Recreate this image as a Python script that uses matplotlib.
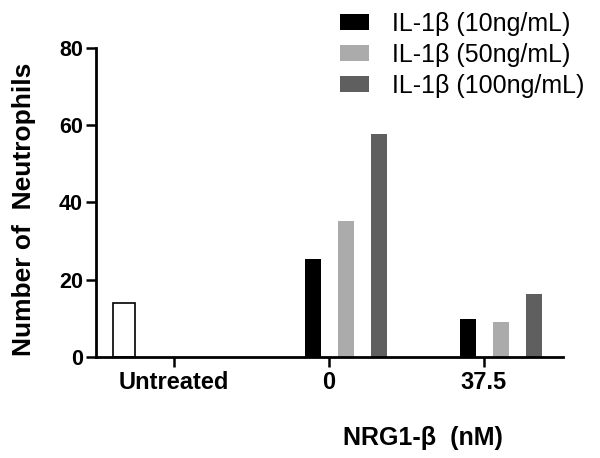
import matplotlib
matplotlib.use("Agg")
import matplotlib.pyplot as plt
from matplotlib.patches import Patch

plt.rcParams['font.family'] = ['Liberation Sans', 'DejaVu Sans']

categories = ['Untreated', '0', '37.5']
untreated = [13.9]
il10 = [25.3, 9.75]
il50 = [35.2, 9.1]
il100 = [57.6, 16.2]
series_labels = ['IL-1\u03b2 (10ng/mL)', 'IL-1\u03b2 (50ng/mL)', 'IL-1\u03b2 (100ng/mL)']
colors = ['#000000', '#ababab', '#5f5f5f']

fig = plt.figure(figsize=(6, 4.58), dpi=100)
ax = fig.add_axes([0.1595, 0.2205, 0.7793, 0.6753])

x = list(range(len(categories)))
bw = 0.103
ax.bar([x[0] - 0.323], untreated, width=0.14, color='white', edgecolor='black', linewidth=1.2)
offsets = [-0.105, 0.108, 0.32]
for vals, off, c in zip([il10, il50, il100], offsets, colors):
    ax.bar([xi + off for xi in x[1:]], vals, width=bw, color=c, edgecolor='none')

ax.set_xlim(-0.505, 2.512)
ax.set_ylim(0, 80)
ax.set_yticks([0, 20, 40, 60, 80])
ax.set_xticks(x)
ax.set_xticklabels(categories)
for s in ['top', 'right']:
    ax.spines[s].set_visible(False)
for s in ['left', 'bottom']:
    ax.spines[s].set_linewidth(2.0)
ax.tick_params(axis='both', length=7.2, width=1.8, direction='out')
ax.tick_params(axis='y', pad=2, labelsize=15.5)
ax.tick_params(axis='x', pad=3, labelsize=17)
for lab in ax.get_xticklabels() + ax.get_yticklabels():
    lab.set_fontweight('bold')

fig.text(24/600, 1 - 209/458, 'Number of  Neutrophils', rotation=90, fontsize=19,
         fontweight='bold', ha='center', va='center')
fig.text(423/600, 1 - 438/458, 'NRG1-\u03b2  (nM)', fontsize=18, fontweight='bold',
         ha='center', va='center')

handles = [Patch(facecolor=c, edgecolor='none') for c in colors]
fig.legend(handles, series_labels, loc='upper left', bbox_to_anchor=(335/600, 1 - 7/458),
           frameon=False, fontsize=18, handlelength=1.16, handleheight=0.6,
           handletextpad=0.9, labelspacing=0.27, borderaxespad=0, borderpad=0.2)

fig.savefig('out.png', dpi=100)
